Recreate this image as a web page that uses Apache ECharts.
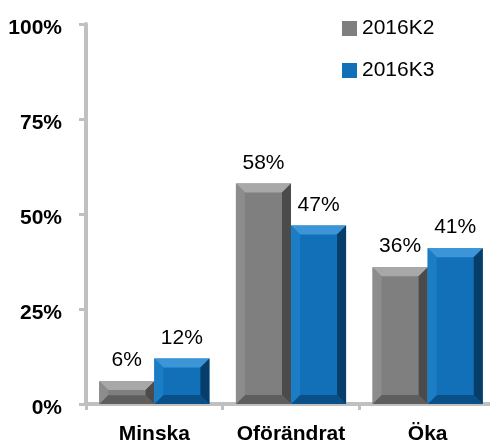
<!DOCTYPE html>
<html>
<head>
<meta charset="utf-8">
<script src="https://cdn.jsdelivr.net/npm/echarts@6/dist/echarts.min.js"></script>
<style>
  html, body { margin: 0; padding: 0; background: #fff; }
  #main { width: 490px; height: 448px; }
</style>
</head>
<body>
<div id="main"></div>
<script>
const categories = ['Minska', 'Oförändrat', 'Öka'];
const k2Values = [6, 58, 36];
const k3Values = [12, 47, 41];
const seriesNames = ['2016K2', '2016K3'];

// bevel face colours: front, top, left, right, bottom
const palettes = [
  { front: '#7f7f7f', top: '#a8a8a8', left: '#8c8c8c', right: '#4b4b4b', bottom: '#5e5e5e' },
  { front: '#1170b8', top: '#3b95d7', left: '#1a7dc5', right: '#073e69', bottom: '#0a5088' },
];

const FONT = '"Liberation Sans", Arial, sans-serif';

var chartDom = document.getElementById('main');
var myChart = echarts.init(chartDom);

function bevelBar(seriesIdx) {
  return function (params, api) {
    const cat = api.value(0);
    const v = api.value(1);
    const top = api.coord([cat, v]);
    const base = api.coord([cat, 0]);
    const band = api.size([1, 0])[0];
    const bw = band * 0.403;
    const x0 = seriesIdx === 0 ? top[0] - bw : top[0];
    const x1 = x0 + bw;
    const y0 = top[1];
    const y1 = base[1];
    const b = Math.min(9, (y1 - y0) / 2.6);
    const c = palettes[seriesIdx];
    const poly = (pts, fill) => ({ type: 'polygon', shape: { points: pts }, style: { fill: fill } });
    return {
      type: 'group',
      children: [
        { type: 'rect', shape: { x: x0, y: y0, width: bw, height: y1 - y0 }, style: { fill: c.front } },
        poly([[x0, y0], [x1, y0], [x1 - b, y0 + b], [x0 + b, y0 + b]], c.top),
        poly([[x0, y1], [x1, y1], [x1 - b, y1 - b], [x0 + b, y1 - b]], c.bottom),
        poly([[x0, y0], [x0 + b, y0 + b], [x0 + b, y1 - b], [x0, y1]], c.left),
        poly([[x1, y0], [x1 - b, y0 + b], [x1 - b, y1 - b], [x1, y1]], c.right),
        {
          type: 'text',
          style: {
            text: v + '%',
            x: (x0 + x1) / 2,
            y: y0 - 10,
            align: 'center',
            verticalAlign: 'bottom',
            fill: '#000',
            font: '21px ' + FONT,
          },
        },
      ],
    };
  };
}

var option = {
  animation: false,
  textStyle: { fontFamily: FONT },
  legend: {
    orient: 'vertical',
    left: 337,
    top: 13,
    itemWidth: 15,
    itemHeight: 15,
    itemGap: 21,
    icon: 'rect',
    textStyle: { fontSize: 21, color: '#000', fontFamily: FONT },
    data: seriesNames,
  },
  grid: { left: 86, top: 24, width: 410, height: 380, containLabel: false, outerBoundsMode: 'none' },
  xAxis: {
    type: 'category',
    data: categories,
    axisLine: { lineStyle: { color: '#c0c0c0', width: 4 } },
    axisTick: { show: true, length: 6, lineStyle: { color: '#c0c0c0', width: 3 } },
    axisLabel: { color: '#000', fontWeight: 'bold', fontSize: 21, margin: 20, interval: 0, fontFamily: FONT },
  },
  yAxis: {
    type: 'value',
    min: 0,
    max: 100,
    interval: 25,
    splitLine: { show: false },
    axisLine: { show: true, lineStyle: { color: '#c0c0c0', width: 4 } },
    axisTick: { show: true, length: 7, lineStyle: { color: '#c0c0c0', width: 3 } },
    axisLabel: {
      formatter: '{value}%',
      color: '#000',
      fontWeight: 'bold',
      fontSize: 21,
      margin: 24,
      fontFamily: FONT,
      verticalAlign: 'top',
      padding: [-6, 0, 0, 0],
    },
  },
  series: [
    {
      name: seriesNames[0],
      type: 'custom',
      renderItem: bevelBar(0),
      itemStyle: { color: palettes[0].front },
      encode: { x: 0, y: 1 },
      data: categories.map((c, i) => [i, k2Values[i]]),
    },
    {
      name: seriesNames[1],
      type: 'custom',
      renderItem: bevelBar(1),
      itemStyle: { color: palettes[1].front },
      encode: { x: 0, y: 1 },
      data: categories.map((c, i) => [i, k3Values[i]]),
    },
  ],
};

option && myChart.setOption(option);
</script>
</body>
</html>
